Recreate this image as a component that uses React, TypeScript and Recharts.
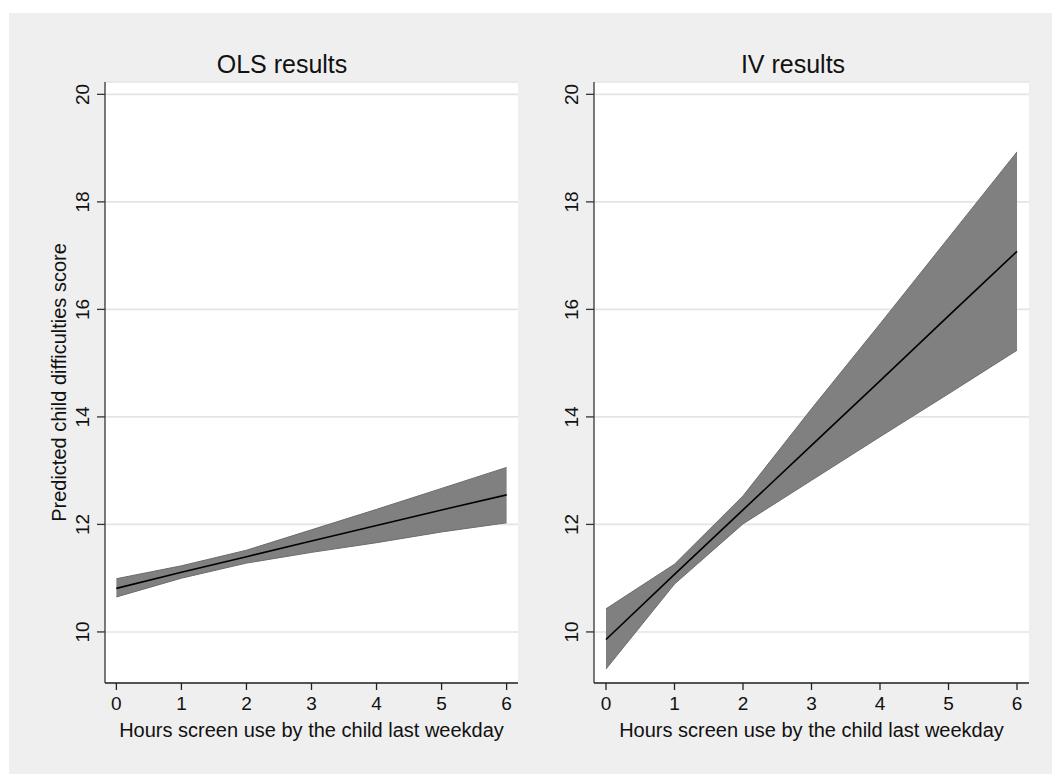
import React from "react";
import {
  Area,
  CartesianGrid,
  ComposedChart,
  Label,
  Line,
  XAxis,
  YAxis,
} from "recharts";

const FONT = "'Liberation Sans', Arial, Helvetica, sans-serif";

// hours of screen use (x)
const hours = [0, 1, 2, 3, 4, 5, 6];
const xTicks = [0, 1, 2, 3, 4, 5, 6];
const yTicks = [10, 12, 14, 16, 18, 20];

// OLS predictions with 95% band
const olsFit = [10.81, 11.11, 11.4, 11.69, 11.98, 12.27, 12.55];
const olsLo = [10.65, 11.0, 11.28, 11.48, 11.66, 11.86, 12.03];
const olsHi = [10.99, 11.23, 11.52, 11.9, 12.28, 12.67, 13.06];

// IV predictions with 95% band
const ivFit = [9.86, 11.07, 12.27, 13.47, 14.67, 15.88, 17.08];
const ivLo = [9.31, 10.89, 12.01, 12.82, 13.63, 14.43, 15.24];
const ivHi = [10.43, 11.26, 12.53, 14.15, 15.73, 17.33, 18.93];

const build = (fit: number[], lo: number[], hi: number[]) =>
  hours.map((h, i) => ({ hours: h, fit: fit[i], band: [lo[i], hi[i]] }));

const olsData = build(olsFit, olsLo, olsHi);
const ivData = build(ivFit, ivLo, ivHi);

function YTick(props: any) {
  const { x, y, payload } = props;
  return (
    <text
      x={x}
      y={y}
      transform={`rotate(-90 ${x} ${y})`}
      textAnchor="middle"
      dominantBaseline="central"
      fontSize={19}
      fontFamily={FONT}
      fill="#111"
    >
      {payload.value}
    </text>
  );
}

function XTick(props: any) {
  const { x, y, payload } = props;
  return (
    <text
      x={x}
      y={y + 20}
      textAnchor="middle"
      fontSize={19}
      fontFamily={FONT}
      fill="#111"
    >
      {payload.value}
    </text>
  );
}

interface PanelProps {
  data: { hours: number; fit: number; band: number[] }[];
  width: number;
  yTitle?: string;
}

function Panel({ data, width, yTitle }: PanelProps) {
  return (
    <ComposedChart
      width={width}
      height={774}
      data={data}
      margin={{ top: 82, right: 12, bottom: 0, left: 0 }}
    >
      <CartesianGrid
        vertical={false}
        fill="#ffffff"
        stroke="#e4e4e4"
        strokeWidth={1.6}
      />
      <XAxis
        dataKey="hours"
        type="number"
        domain={[-0.175, 6.175]}
        ticks={xTicks}
        allowDataOverflow
        height={91}
        tickSize={7}
        tickMargin={0}
        tick={<XTick />}
        stroke="#222"
        strokeWidth={1.3}
      >
        <Label
          value="Hours screen use by the child last weekday"
          position="insideBottom"
          offset={37}
          style={{ fontSize: 20, fontFamily: FONT, fill: "#111" }}
        />
      </XAxis>
      <YAxis
        type="number"
        domain={[9.05, 20.23]}
        ticks={yTicks}
        allowDataOverflow
        width={105}
        tickSize={8}
        tickMargin={14}
        tick={<YTick />}
        stroke="#333"
        strokeWidth={1.3}
      >
        {yTitle && (
          <Label
            value={yTitle}
            angle={-90}
            position="center"
            dx={6.5}
            style={{ fontSize: 20, fontFamily: FONT, fill: "#111" }}
          />
        )}
      </YAxis>
      <Area
        type="linear"
        dataKey="band"
        fill="#808080"
        fillOpacity={1}
        stroke="#6c6c6c"
        strokeWidth={1}
        isAnimationActive={false}
        dot={false}
        activeDot={false}
      />
      <Line
        type="linear"
        dataKey="fit"
        stroke="#000"
        strokeWidth={1.6}
        dot={false}
        activeDot={false}
        isAnimationActive={false}
      />
    </ComposedChart>
  );
}

const titleStyle: React.CSSProperties = {
  position: "absolute",
  top: 52,
  width: 300,
  textAlign: "center",
  fontSize: 25,
  lineHeight: "25px",
  fontFamily: FONT,
  color: "#111",
};

export default function App() {
  return (
    <div
      style={{
        position: "absolute",
        left: 0,
        top: 0,
        width: 1052,
        height: 774,
        background: "#fff",
        overflow: "hidden",
      }}
    >
      <div
        style={{
          position: "absolute",
          left: 9,
          top: 13,
          right: 0,
          bottom: 0,
          background: "#efefef",
        }}
      />
      <div style={{ ...titleStyle, left: 282 - 150 }}>OLS results</div>
      <div style={{ ...titleStyle, left: 793 - 150 }}>IV results</div>
      <div style={{ position: "absolute", left: 0, top: 0 }}>
        <Panel
          data={olsData}
          width={530}
          yTitle="Predicted child difficulties score"
        />
      </div>
      <div style={{ position: "absolute", left: 489, top: 0 }}>
        <Panel data={ivData} width={552} />
      </div>
    </div>
  );
}
